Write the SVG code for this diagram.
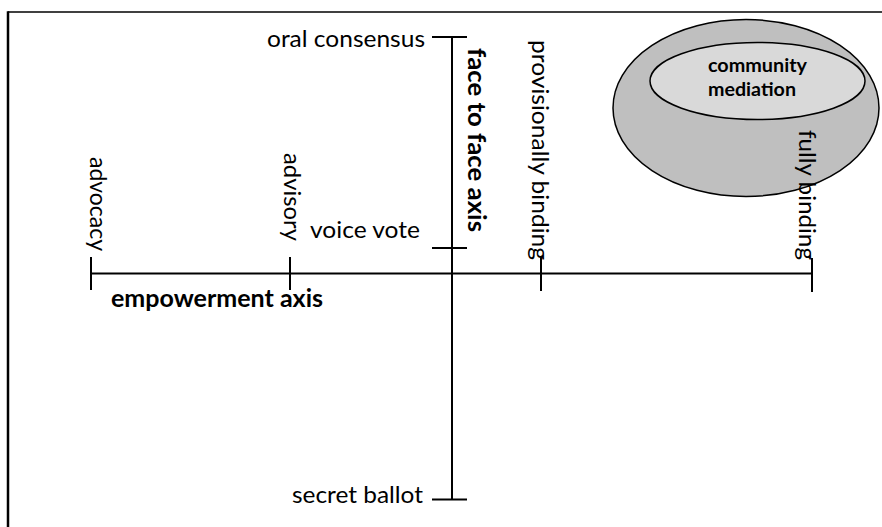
<svg xmlns="http://www.w3.org/2000/svg" width="882" height="527" viewBox="0 0 882 527">
<style>
.t{font-family:Lato,"Liberation Sans",sans-serif;font-size:24px;fill:#000}
.b{font-weight:bold}
.s{font-size:19px}
.ln{stroke:#000;stroke-width:2;fill:none}
.el{stroke:#000;stroke-width:1.5}
</style>
<rect width="882" height="527" fill="#fff"/>
<g id="frame">
<line x1="8" y1="12" x2="882" y2="12" stroke="#000" stroke-width="1.5"/>
<line x1="8" y1="11.25" x2="8" y2="527" stroke="#000" stroke-width="2.5"/>
</g>
<g id="connectors">
<line class="ln" x1="452" y1="37" x2="452" y2="500"/>
<line class="ln" x1="432" y1="37" x2="467" y2="37"/>
<line class="ln" x1="432" y1="248" x2="467" y2="248"/>
<line class="ln" x1="432" y1="499.5" x2="467" y2="499.5"/>
<line class="ln" x1="91" y1="273.5" x2="812" y2="273.5"/>
<line class="ln" x1="91" y1="257" x2="91" y2="290"/>
<line class="ln" x1="290" y1="257" x2="290" y2="290"/>
<line class="ln" x1="541" y1="256" x2="541" y2="291"/>
<line class="ln" x1="812" y1="258" x2="812" y2="292"/>
</g>
<g id="community-mediation">
<ellipse class="el" cx="746" cy="108" rx="133" ry="88.5" fill="#bfbfbf"/>
<ellipse class="el" cx="757.5" cy="81" rx="107.5" ry="38.5" fill="#d9d9d9"/>
<text class="t b s" x="708" y="72" textLength="99" lengthAdjust="spacingAndGlyphs">community</text>
<text class="t b s" x="708" y="96" textLength="88" lengthAdjust="spacingAndGlyphs">mediation</text>
</g>
<g id="oral-consensus"><text class="t" x="267" y="46.5" textLength="158" lengthAdjust="spacingAndGlyphs">oral consensus</text></g>
<g id="voice-vote"><text class="t" x="310" y="238" textLength="110" lengthAdjust="spacingAndGlyphs">voice vote</text></g>
<g id="secret-ballot"><text class="t" x="292" y="503" textLength="131" lengthAdjust="spacingAndGlyphs">secret ballot</text></g>
<g id="empowerment-axis"><text class="t b" x="111" y="306.5" textLength="212" lengthAdjust="spacingAndGlyphs">empowerment axis</text></g>
<g id="face-to-face-axis"><text class="t b" transform="translate(468,48) rotate(90)" textLength="184" lengthAdjust="spacingAndGlyphs">face to face axis</text></g>
<g id="advocacy"><text class="t" transform="translate(90,157) rotate(90)" textLength="94" lengthAdjust="spacingAndGlyphs">advocacy</text></g>
<g id="advisory"><text class="t" transform="translate(284,153) rotate(90)" textLength="88" lengthAdjust="spacingAndGlyphs">advisory</text></g>
<g id="provisionally-binding"><text class="t" transform="translate(532,40) rotate(90)" textLength="220" lengthAdjust="spacingAndGlyphs">provisionally binding</text></g>
<g id="fully-binding"><text class="t" transform="translate(799,130) rotate(90)" textLength="130" lengthAdjust="spacingAndGlyphs">fully binding</text></g>
</svg>
